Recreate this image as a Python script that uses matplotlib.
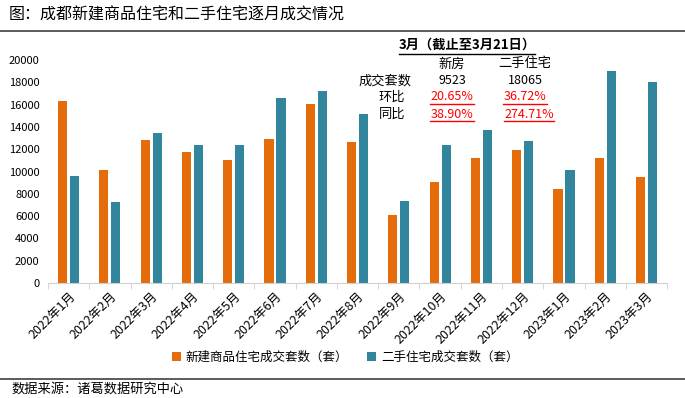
import numpy as np
import matplotlib
matplotlib.use("Agg")
import matplotlib.pyplot as plt
from matplotlib.lines import Line2D

plt.rcParams['font.family'] = ['Noto Sans CJK SC', 'DejaVu Sans']

# data
months = ['2022年1月', '2022年2月', '2022年3月', '2022年4月', '2022年5月',
          '2022年6月', '2022年7月', '2022年8月', '2022年9月', '2022年10月',
          '2022年11月', '2022年12月', '2023年1月', '2023年2月', '2023年3月']
new_homes = [16300, 10150, 12830, 11750, 11030, 12920, 16050, 12650, 6100,
             9060, 11210, 11930, 8430, 11210, 9523]
second_hand = [9600, 7270, 13450, 12380, 12380, 16590, 17220, 15160, 7350,
               12380, 13720, 12740, 10140, 19010, 18065]
yticks = list(range(0, 20001, 2000))

table_title = '3月（截止至3月21日）'
table_cols = ['新房', '二手住宅']
table_rows = ['成交套数', '环比', '同比']
table_vals = [['9523', '18065'], ['20.65%', '36.72%'], ['38.90%', '274.71%']]

c_new = '#E46C0A'
c_old = '#31859C'

fig = plt.figure(figsize=(6.85, 3.98), dpi=100)
ax = fig.add_axes([0.070, 0.289, 0.904, 0.560])

x = np.arange(len(months))
w = 0.22
ax.bar(x - 0.145, new_homes, w, color=c_new, label='新建商品住宅成交套数（套）')
ax.bar(x + 0.145, second_hand, w, color=c_old, label='二手住宅成交套数（套）')

ax.set_xlim(-0.5, len(months) - 0.5)
ax.set_ylim(0, 20000)
ax.set_yticks(yticks)
ax.set_yticklabels([str(v) for v in yticks], fontsize=8)
ax.tick_params(axis='y', length=0, pad=6)
ax.set_xticks(x)
ax.set_xticklabels(months, rotation=45, ha='right', va='top', fontsize=9,
                   rotation_mode='anchor')
ax.tick_params(axis='x', which='major', length=0, pad=5)
ax.set_xticks(np.arange(-0.5, len(months), 1), minor=True)
ax.tick_params(axis='x', which='minor', length=4, color='#D0D0D0')
for s in ['top', 'right', 'left']:
    ax.spines[s].set_visible(False)
ax.spines['bottom'].set_color('#D0D0D0')

ax.legend(loc='center', bbox_to_anchor=(0.48, -0.335), ncol=2,
          frameon=False, fontsize=9, handlelength=0.7, handleheight=0.7,
          columnspacing=1.5, handletextpad=0.4)

# title and source
fig.text(0.012, 0.962, '图：成都新建商品住宅和二手住宅逐月成交情况',
         fontsize=11.5, va='center', ha='left')
fig.add_artist(Line2D([0.0, 1.0], [0.922, 0.922], color='#404040', lw=1.2))
fig.add_artist(Line2D([0.0, 1.0], [0.047, 0.047], color='#404040', lw=1.2))
fig.text(0.017, 0.022, '数据来源：诸葛数据研究中心', fontsize=9.5,
         va='center', ha='left')

# summary table
def fy(py):
    return 1 - py / 398

def fx(px):
    return px / 685

fig.text(fx(467), fy(45), table_title, fontsize=9.5, fontweight='bold',
         ha='center', va='center')
fig.add_artist(Line2D([fx(399), fx(535)], [fy(53.5), fy(53.5)],
                      color='black', lw=1))
col_x = [452, 525]
row_y = [81, 97, 114]
row_x = [385, 392, 392]
for j, cname in enumerate(table_cols):
    fig.text(fx(col_x[j]), fy(64), cname, fontsize=9.5, ha='center', va='center')
for i, rname in enumerate(table_rows):
    fig.text(fx(row_x[i]), fy(row_y[i]), rname, fontsize=9.5,
             ha='center', va='center')
    for j in range(2):
        val = table_vals[i][j]
        if i == 0:
            fig.text(fx(col_x[j]), fy(row_y[i]), val, fontsize=9,
                     ha='center', va='center')
        else:
            cx = col_x[j] if len(val) < 7 else col_x[j] + 4
            fig.text(fx(cx), fy(row_y[i]), val, fontsize=9, color='#FF0000',
                     style='italic', ha='center', va='center')
            half = len(val) * 3.6
            fig.add_artist(Line2D([fx(cx - half), fx(cx + half)],
                                  [fy(row_y[i] + 6.5)] * 2,
                                  color='#FF0000', lw=1))

fig.savefig('out.png', dpi=100)
